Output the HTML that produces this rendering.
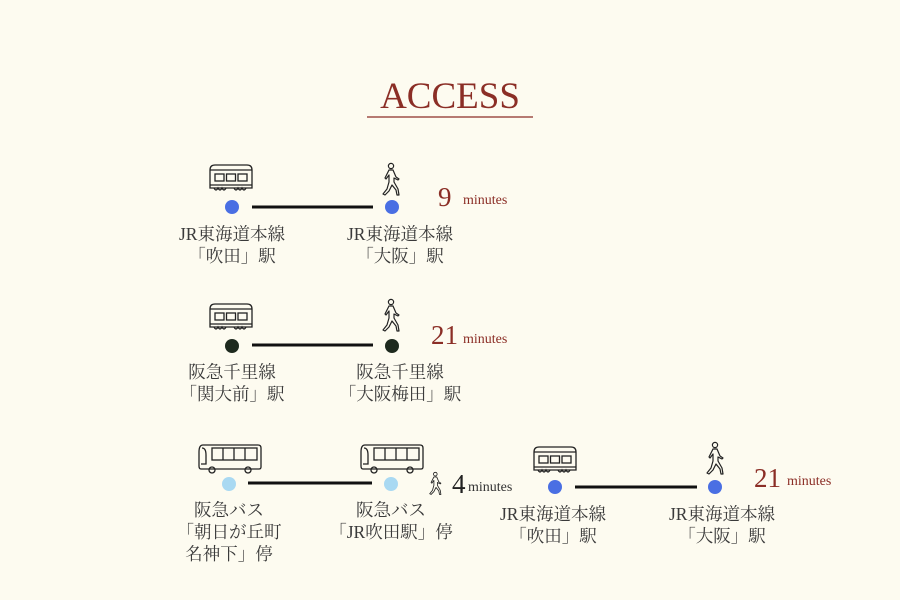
<!DOCTYPE html>
<html><head><meta charset="utf-8"><style>
html,body{margin:0;padding:0;background:#fdfbf0;}
svg{display:block;}
.t{font-family:"Liberation Serif","Noto Serif CJK JP",serif;fill:#3a3a3a;font-size:17.5px;text-anchor:middle;}
.r{font-family:"Liberation Serif",serif;fill:#8b2e26;}
</style></head><body>
<svg width="900" height="600" viewBox="0 0 900 600" xmlns="http://www.w3.org/2000/svg">
<defs>
<g id="train" fill="none" stroke="#222" stroke-width="1.3">
 <path d="M1 6 Q1 1 6 1 L38 1 Q43 1 43 6 L43 24 L1 24 Z"/>
 <line x1="1" y1="6" x2="43" y2="6"/>
 <rect x="6" y="10" width="9" height="7"/><rect x="17.5" y="10" width="9" height="7"/><rect x="29" y="10" width="9" height="7"/>
 <line x1="1" y1="21" x2="43" y2="21"/>
 <path d="M5 24 q2 4 4 0 q2 4 4 0 q2 4 4 0 M25 24 q2 4 4 0 q2 4 4 0 q2 4 4 0"/>
</g>
<g id="walk" fill="none" stroke="#222" stroke-width="1.2" stroke-linejoin="round">
 <circle cx="9" cy="3" r="2.6"/>
 <path d="M7 7 L11 7 L14 14 L17 16 L16 17 L12 15 L12 19 L16 26 L17 32 L15 32 L14 27 L10 22 L7 28 L3 32 L1 31 L5 26 L7 19 L7 12 L4 16 L3 15 Z"/>
</g>
<g id="bus" fill="none" stroke="#222" stroke-width="1.3">
 <path d="M5 1 L60 1 Q63 1 63 4 L63 23 Q63 25 61 25 L3 25 Q1 25 1 22 L1 8 Q1 1 5 1 Z"/>
 <path d="M4 4 Q8 4 8 11 L8 20 L3 20"/>
 <rect x="14" y="4" width="45" height="12"/>
 <line x1="25" y1="4" x2="25" y2="16"/><line x1="36" y1="4" x2="36" y2="16"/><line x1="47" y1="4" x2="47" y2="16"/>
 <circle cx="14" cy="26" r="3"/><circle cx="50" cy="26" r="3"/>
</g>
</defs>

<text x="450" y="108" class="r" font-size="37" text-anchor="middle">ACCESS</text>
<line x1="367" y1="117" x2="533" y2="117" stroke="#8b2e26" stroke-width="1.3"/>

<!-- Row 1 -->
<use href="#train" x="209" y="164"/>
<use href="#walk" x="382" y="163"/>
<line x1="252" y1="207" x2="373" y2="207" stroke="#111" stroke-width="3"/>
<circle cx="232" cy="207" r="7" fill="#4a6fe3"/>
<circle cx="392" cy="207" r="7" fill="#4a6fe3"/>
<text x="438" y="206" class="r" font-size="27">9</text>
<text x="463" y="204" class="r" font-size="14">minutes</text>
<text x="232" y="240" class="t">JR東海道本線</text>
<text x="232" y="262" class="t">「吹田」駅</text>
<text x="400" y="240" class="t">JR東海道本線</text>
<text x="400" y="262" class="t">「大阪」駅</text>

<!-- Row 2 -->
<use href="#train" x="209" y="303"/>
<use href="#walk" x="382" y="299"/>
<line x1="252" y1="345" x2="373" y2="345" stroke="#111" stroke-width="3"/>
<circle cx="232" cy="346" r="7" fill="#1e2a1e"/>
<circle cx="392" cy="346" r="7" fill="#1e2a1e"/>
<text x="431" y="344" class="r" font-size="27">21</text>
<text x="463" y="343" class="r" font-size="14">minutes</text>
<text x="232" y="378" class="t">阪急千里線</text>
<text x="232" y="400" class="t">「関大前」駅</text>
<text x="400" y="378" class="t">阪急千里線</text>
<text x="400" y="400" class="t">「大阪梅田」駅</text>

<!-- Row 3 -->
<use href="#bus" x="198" y="444"/>
<use href="#bus" x="360" y="444"/>
<line x1="248" y1="483" x2="372" y2="483" stroke="#111" stroke-width="3"/>
<circle cx="229" cy="484" r="7" fill="#a9d9f2"/>
<circle cx="391" cy="484" r="7" fill="#a9d9f2"/>
<g transform="translate(429,472) scale(0.7)"><use href="#walk"/></g>
<text x="452" y="493" class="r" font-size="27" style="fill:#222">4</text>
<text x="468" y="491" class="t" style="text-anchor:start;font-size:14px;fill:#333">minutes</text>
<text x="229" y="516" class="t">阪急バス</text>
<text x="229" y="538" class="t">「朝日が丘町</text>
<text x="229" y="560" class="t">名神下」停</text>
<text x="391" y="516" class="t">阪急バス</text>
<text x="391" y="538" class="t">「JR吹田駅」停</text>

<use href="#train" x="533" y="446"/>
<use href="#walk" x="706" y="442"/>
<line x1="575" y1="487" x2="697" y2="487" stroke="#111" stroke-width="3"/>
<circle cx="555" cy="487" r="7" fill="#4a6fe3"/>
<circle cx="715" cy="487" r="7" fill="#4a6fe3"/>
<text x="754" y="487" class="r" font-size="27">21</text>
<text x="787" y="485" class="r" font-size="14">minutes</text>
<text x="553" y="520" class="t">JR東海道本線</text>
<text x="553" y="542" class="t">「吹田」駅</text>
<text x="722" y="520" class="t">JR東海道本線</text>
<text x="722" y="542" class="t">「大阪」駅</text>
</svg>
</body></html>
